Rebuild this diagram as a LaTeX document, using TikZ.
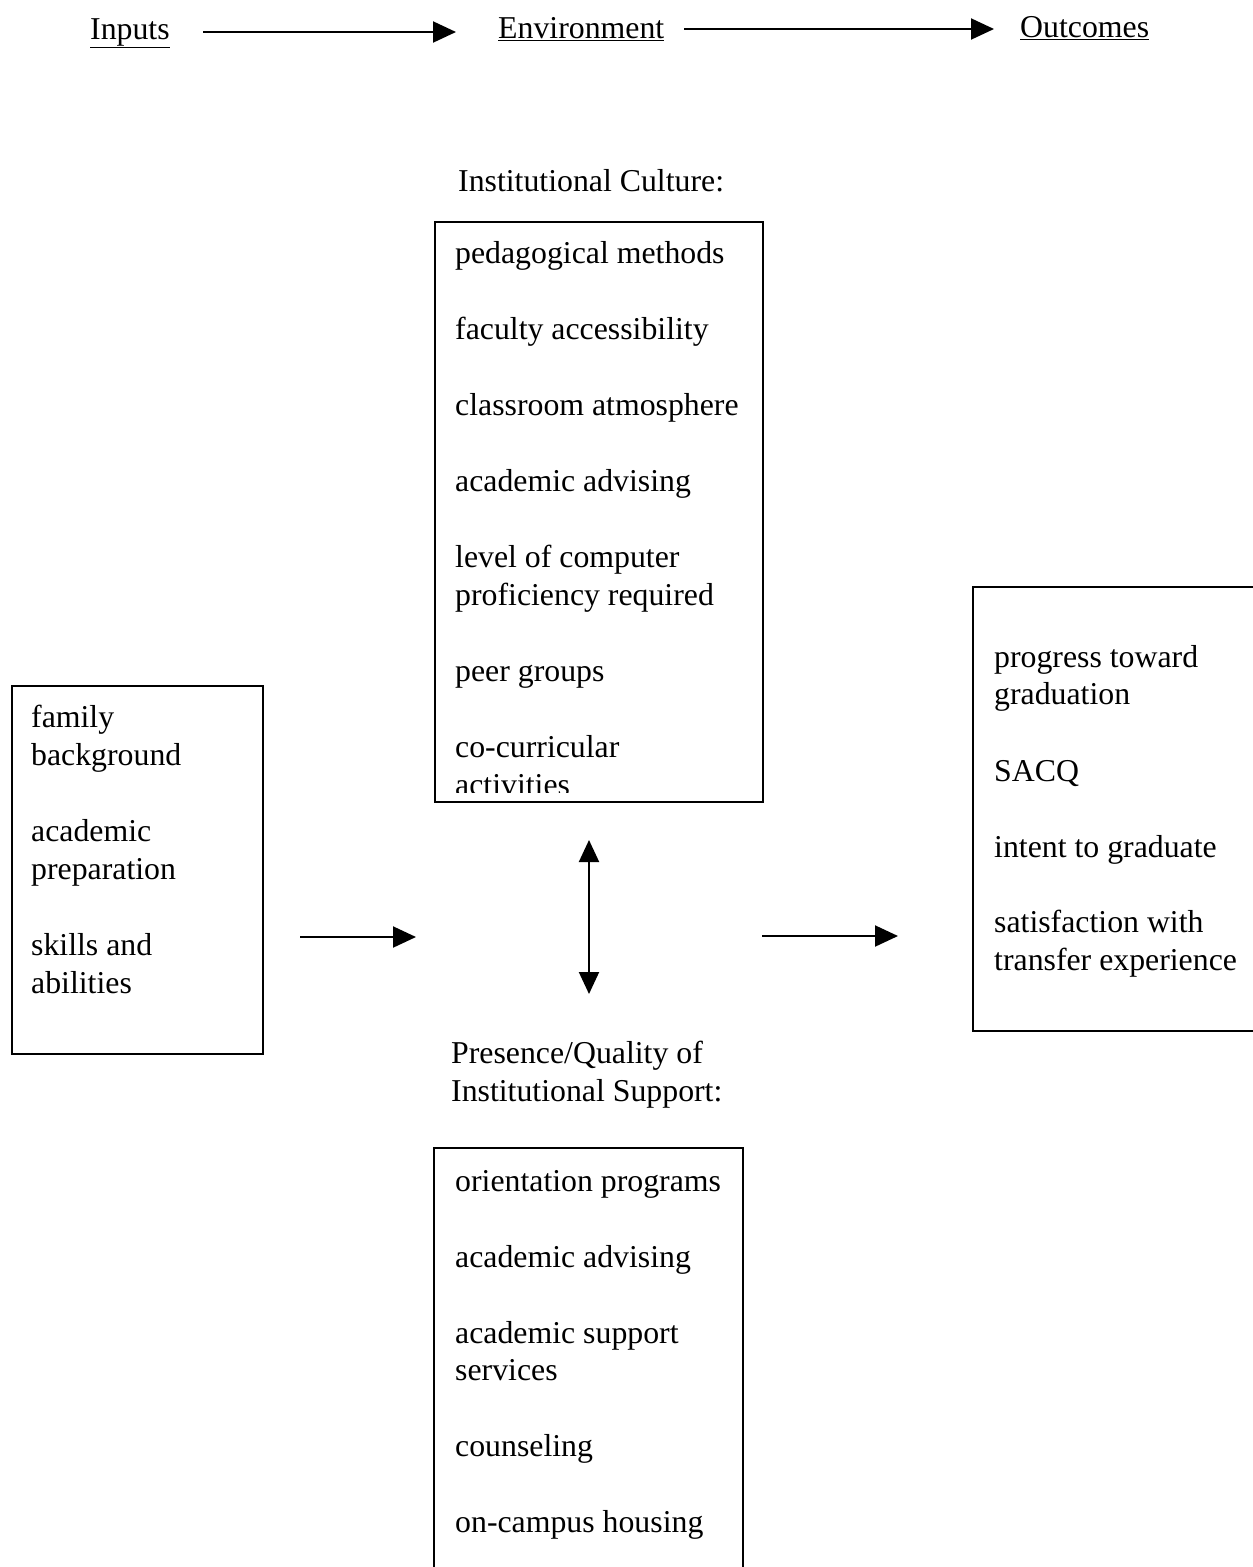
\documentclass[tikz,border=0pt]{standalone}
\usepackage{fontspec}
\setmainfont{Liberation Serif}
\usetikzlibrary{arrows.meta}
\begin{document}
\begin{tikzpicture}[x=1pt,y=-1pt,
  txt/.style={anchor=base west,inner sep=0pt,font=\fontsize{31.8}{38}\selectfont},
  boxline/.style={line width=1.6pt},
  arr/.style={line width=2pt,-{Triangle[length=23pt,width=21pt]}},
  darr/.style={line width=2pt,{Triangle[length=22pt,width=20pt]}-{Triangle[length=22pt,width=20pt]}}]
\useasboundingbox (0,0) rectangle (1253,1567);
% header
\node[txt] (inp) at (90,39) {\underline{Inputs}};
\node[txt] (env) at (498,38) {\underline{Environment}};
\node[txt] (out) at (1020,37) {\underline{Outcomes}};
\coordinate (a1s) at (203,32); \coordinate (a1e) at (456,32);
\coordinate (a2s) at (684,29); \coordinate (a2e) at (994,29);
\draw[arr] (a1s) -- (a1e);
\draw[arr] (a2s) -- (a2e);
% institutional culture
\node[txt] (ict) at (458,191) {Institutional Culture:};
\begin{scope}
\clip (434,221) rectangle (762,792);
\node[txt] (c1) at (455,263) {pedagogical methods};
\node[txt] (c2) at (455,339) {faculty accessibility};
\node[txt] (c3) at (455,415) {classroom atmosphere};
\node[txt] (c4) at (455,491) {academic advising};
\node[txt] (c5) at (455,567) {level of computer};
\node[txt] (c5b) at (455,605) {proficiency required};
\node[txt] (c6) at (455,681) {peer groups};
\node[txt] (c7) at (455,757) {co-curricular};
\node[txt] (c7b) at (455,795) {activities};
\end{scope}
\node[draw,boxline,minimum width=328pt,minimum height=580pt,anchor=north west,inner sep=0pt] (cbox) at (434,221) {};
% inputs box
\node[draw,boxline,minimum width=251pt,minimum height=368pt,anchor=north west,inner sep=0pt] (ibox) at (11,685) {};
\node[txt] (i1) at (31,727) {family};
\node[txt] (i1b) at (31,765) {background};
\node[txt] (i2) at (31,841) {academic};
\node[txt] (i2b) at (31,879) {preparation};
\node[txt] (i3) at (31,955) {skills and};
\node[txt] (i3b) at (31,993) {abilities};
% outcomes box
\draw[boxline] (1260,587) -- (973,587) -- (973,1031) -- (1260,1031);
\node[txt] (o1) at (994,667) {progress toward};
\node[txt] (o1b) at (994,704) {graduation};
\node[txt] (o2) at (994,781) {SACQ};
\node[txt] (o3) at (994,857) {intent to graduate};
\node[txt] (o4) at (994,932) {satisfaction with};
\node[txt] (o4b) at (994,970) {transfer experience};
% middle arrows
\coordinate (m1s) at (300,937); \coordinate (m1e) at (416,937);
\coordinate (m2s) at (762,936); \coordinate (m2e) at (898,936);
\coordinate (vt) at (589,840); \coordinate (vb) at (589,994);
\draw[arr] (m1s) -- (m1e);
\draw[arr] (m2s) -- (m2e);
\draw[darr] (vt) -- (vb);
% support
\node[txt] (ps1) at (451,1063) {Presence/Quality of};
\node[txt] (ps2) at (451,1101) {Institutional Support:};
\draw[boxline] (434,1580) -- (434,1148) -- (743,1148) -- (743,1580);
\node[txt] (s1) at (455,1191) {orientation programs};
\node[txt] (s2) at (455,1267) {academic advising};
\node[txt] (s3) at (455,1343) {academic support};
\node[txt] (s3b) at (455,1380) {services};
\node[txt] (s4) at (455,1456) {counseling};
\node[txt] (s5) at (455,1532) {on-campus housing};
\end{tikzpicture}
\end{document}
